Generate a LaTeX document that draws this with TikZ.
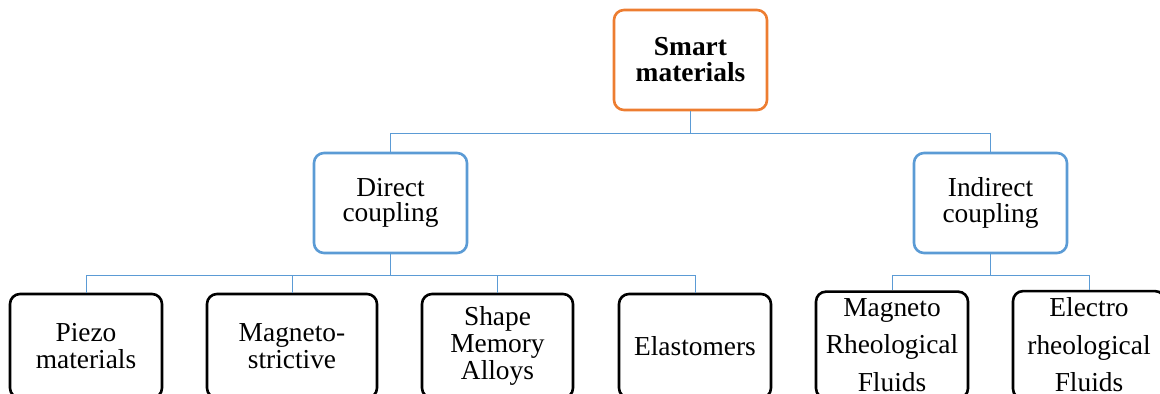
\documentclass[tikz,border=0pt]{standalone}
\usepackage{fontspec}
\setmainfont{Liberation Serif}
\usepackage{xcolor}
\definecolor{rootorange}{RGB}{237,125,49}
\definecolor{linkblue}{RGB}{91,155,213}
\tikzset{
	root node/.style={rectangle,draw=rootorange,rounded corners=5pt,line width=1.3pt,
		minimum width=76.5pt,minimum height=50pt,align=center,
		font=\rmfamily\fontsize{13.7}{13}\selectfont\bfseries},
	mid node/.style={rectangle,draw=linkblue,rounded corners=5pt,line width=1.3pt,
		minimum width=76.5pt,minimum height=50pt,align=center,
		font=\rmfamily\fontsize{13.7}{12.6}\selectfont},
	leaf node/.style={rectangle,draw=black,rounded corners=5pt,line width=1.3pt,
		minimum width=76pt,minimum height=52pt,align=center,
		font=\rmfamily\fontsize{13.7}{13.3}\selectfont},
	link/.style={draw=linkblue,line width=0.5pt}
}

\begin{document}
\begin{tikzpicture}[x=0.5pt,y=-0.5pt]
	\useasboundingbox (0,0) rectangle (1160,394);
	% top level
	\node [root node] (sm) at (690.5,60) {Smart\\materials};
	% coupling
	\node [mid node] (dc) at (390.5,203) {Direct\\coupling};
	\node [mid node] (ic) at (990.5,203) {Indirect\\coupling};
	% materials
	\node [leaf node] (piezo) at (86,346) {Piezo\\materials};
	\node [leaf node,minimum width=85pt] (magstr) at (292,346) {Magneto-\\strictive};
	\node [leaf node,minimum width=75.5pt] (sma) at (497.5,346) {Shape\\Memory\\Alloys};
	\node [leaf node] (elast) at (695,346) {Elastomers};
	\node [leaf node,minimum height=51pt] (mrf) at (892,345) {Magneto\\[5.5pt]Rheological\\[5.5pt]Fluids};
	\node [leaf node,minimum height=51pt] (erf) at (1089,345) {Electro\\[5.5pt]rheological\\[5.5pt]Fluids};
	% connectors
	\draw [link] (sm.south) -- ++(0,22) -| (dc.north);
	\draw [link] (sm.south) -- ++(0,22) -| (ic.north);
	\foreach \leaf in {piezo,magstr,sma,elast}
		\draw [link] (dc.south) -- ++(0,21) -| (\leaf.north);
	\foreach \leaf in {mrf,erf}
		\draw [link] (ic.south) -- ++(0,21) -| (\leaf.north);
\end{tikzpicture}
\end{document}
